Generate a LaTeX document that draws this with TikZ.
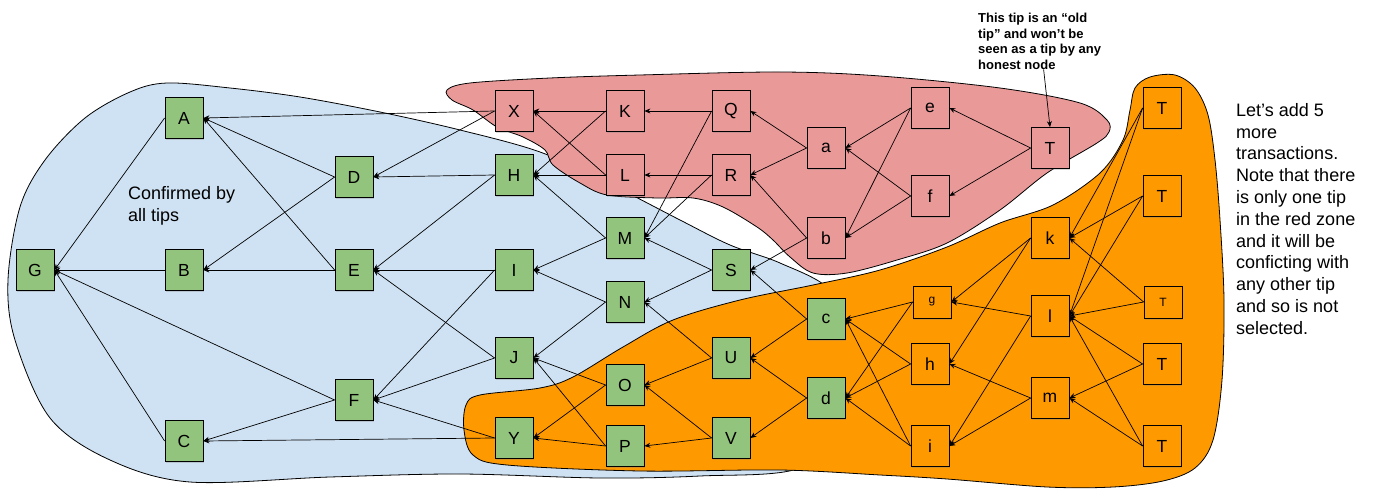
\documentclass[tikz,border=0pt]{standalone}
\usepackage{fontspec}
\setmainfont{Liberation Sans}
\usetikzlibrary{arrows.meta,shadows}
\definecolor{sky}{RGB}{207,226,243}
\definecolor{rose}{RGB}{234,153,153}
\definecolor{tang}{RGB}{255,153,0}
\definecolor{sage}{RGB}{147,196,125}
\tikzset{
  >={Stealth[length=6pt,width=5pt]},
  tx/.style={draw=black,fill=#1,line width=0.8pt,minimum width=38pt,minimum height=41pt,
    inner sep=0pt,font=\fontsize{17.5}{20}\selectfont,
    drop shadow={opacity=0.3,shadow xshift=1pt,shadow yshift=-1.5pt}},
  tx/.default=sage,
  small tx/.style={tx=#1,minimum height=32pt,font=\fontsize{12}{14}\selectfont},
  flow/.style={->,line width=0.7pt},
  zone/.style={draw=black,line width=0.8pt,fill=#1},
  remark/.style={inner sep=0pt,align=left,anchor=north west,font=\fontsize{18}{21.8}\selectfont},
}
\begin{document}
\begin{tikzpicture}[x=1pt,y=-1pt]
\useasboundingbox (0,0) rectangle (1376,492);
% zones
\draw[zone=sky] plot[smooth cycle,tension=0.55] coordinates {
  (167,83) (230,88) (300,97) (380,112) (460,130) (540,152) (610,184) (680,220)
  (730,245) (780,263) (830,290) (850,340) (845,420) (800,468) (700,476) (600,478)
  (460,474) (330,477) (190,482) (110,460) (50,418) (15,340) (8,280) (20,207)
  (45,160) (85,118) (130,92)};
\draw[zone=rose] plot[smooth cycle,tension=0.55] coordinates {
  (447,90) (470,83) (550,78) (640,75) (780,72) (880,76) (1000,88) (1080,103)
  (1107,120) (1109,132) (1097,143) (1047,173) (1000,210) (947,243) (897,260)
  (847,273) (813,273) (790,257) (773,240) (757,227) (723,207) (693,198) (657,198)
  (607,195) (580,183) (553,165) (545,150) (523,137) (497,127) (473,110) (452,100)};
\draw[zone=tang] plot[smooth cycle,tension=0.55] coordinates {
  (1135,88) (1150,77) (1175,75) (1195,88) (1208,115) (1215,160) (1220,220)
  (1224,300) (1222,380) (1213,440) (1195,468) (1163,481) (1113,487) (1047,487)
  (947,479) (880,475) (780,470) (640,471) (507,465) (473,455) (464,430) (466,405)
  (480,395) (540,388) (573,377) (623,347) (673,320) (740,300) (813,285) (880,270)
  (947,247) (1000,223) (1053,205) (1100,173) (1123,140) (1130,110)};

% confirmed transactions
\node[tx] (G) at (35,270) {G};
\node[tx] (A) at (184,118) {A};
\node[tx] (B) at (184,270) {B};
\node[tx] (C) at (184,441) {C};
\node[tx] (D) at (354,177) {D};
\node[tx] (E) at (354,270) {E};
\node[tx] (F) at (354,400) {F};
\node[tx] (H) at (514,175) {H};
\node[tx] (I) at (514,270) {I};
\node[tx] (J) at (514,358) {J};
\node[tx] (Y) at (514,438) {Y};
\node[tx] (M) at (625,238) {M};
\node[tx] (N) at (625,302) {N};
\node[tx] (O) at (625,385) {O};
\node[tx] (P) at (625,446) {P};
\node[tx] (S) at (731,270) {S};
\node[tx] (U) at (731,358) {U};
\node[tx] (V) at (731,438) {V};
\node[tx] (c) at (826,319) {c};
\node[tx] (d) at (826,398) {d};
% red zone
\node[tx=rose] (X) at (514,111) {X};
\node[tx=rose] (K) at (625,111) {K};
\node[tx=rose] (L) at (625,175) {L};
\node[tx=rose] (Q) at (731,111) {Q};
\node[tx=rose] (R) at (731,175) {R};
\node[tx=rose] (a) at (826,148) {a};
\node[tx=rose] (b) at (826,238) {b};
\node[tx=rose] (e) at (930,108) {e};
\node[tx=rose] (f) at (930,196) {f};
\node[tx=rose] (T0) at (1050,148) {T};
% orange zone
\node[small tx=tang] (g) at (932,302) {g};
\node[tx=tang] (h) at (930,364) {h};
\node[tx=tang] (i) at (930,446) {i};
\node[tx=tang] (k) at (1050,238) {k};
\node[tx=tang] (l) at (1050,316) {l};
\node[tx=tang] (m) at (1050,398) {m};
\node[tx=tang] (T1) at (1162,108) {T};
\node[tx=tang] (T2) at (1162,196) {T};
\node[small tx=tang] (T3) at (1163,302) {T};
\node[tx=tang] (T4) at (1162,364) {T};
\node[tx=tang] (T5) at (1162,446) {T};

% approvals
\foreach \src/\dst in {A/G,B/G,C/G,F/G,D/A,E/A,X/A,D/B,E/B,F/C,Y/C,X/D,H/D,
  H/E,I/E,J/E,I/F,J/F,Y/F,K/X,L/X,K/H,L/H,M/H,M/I,N/I,N/J,O/J,P/J,O/Y,P/Y,
  Q/K,R/L,Q/M,R/M,S/M,S/N,a/Q,a/R,b/R,b/S,U/N,U/O,V/O,V/P,c/S,c/U,d/U,d/V,
  e/a,f/a,e/b,f/b,T0/e,T0/f,g/c,h/c,i/c,g/d,h/d,i/d,k/g,k/h,l/g,l/i,m/h,m/i,
  T1/k,T1/l,T2/k,T2/l,T3/k,T3/l,T4/l,T4/m,T5/l,T5/m}
  \draw[flow] (\src.west) -- (\dst.east);

% notes
\node[remark] (conf) at (128,186) {Confirmed by\\all tips};
\node[remark] (add) at (1236,103) {Let’s add 5\\more\\transactions.\\Note that there\\is only one tip\\in the red zone\\and it will be\\conficting with\\any other tip\\and so is not\\selected.};
\node[remark,font=\fontsize{13}{15.5}\selectfont\bfseries] (old) at (978,13)
  {This tip is an “old\\tip” and won’t be\\seen as a tip by any\\honest node};
\draw[flow] ([xshift=4pt]old.south) -- (T0.north);
\end{tikzpicture}
\end{document}
